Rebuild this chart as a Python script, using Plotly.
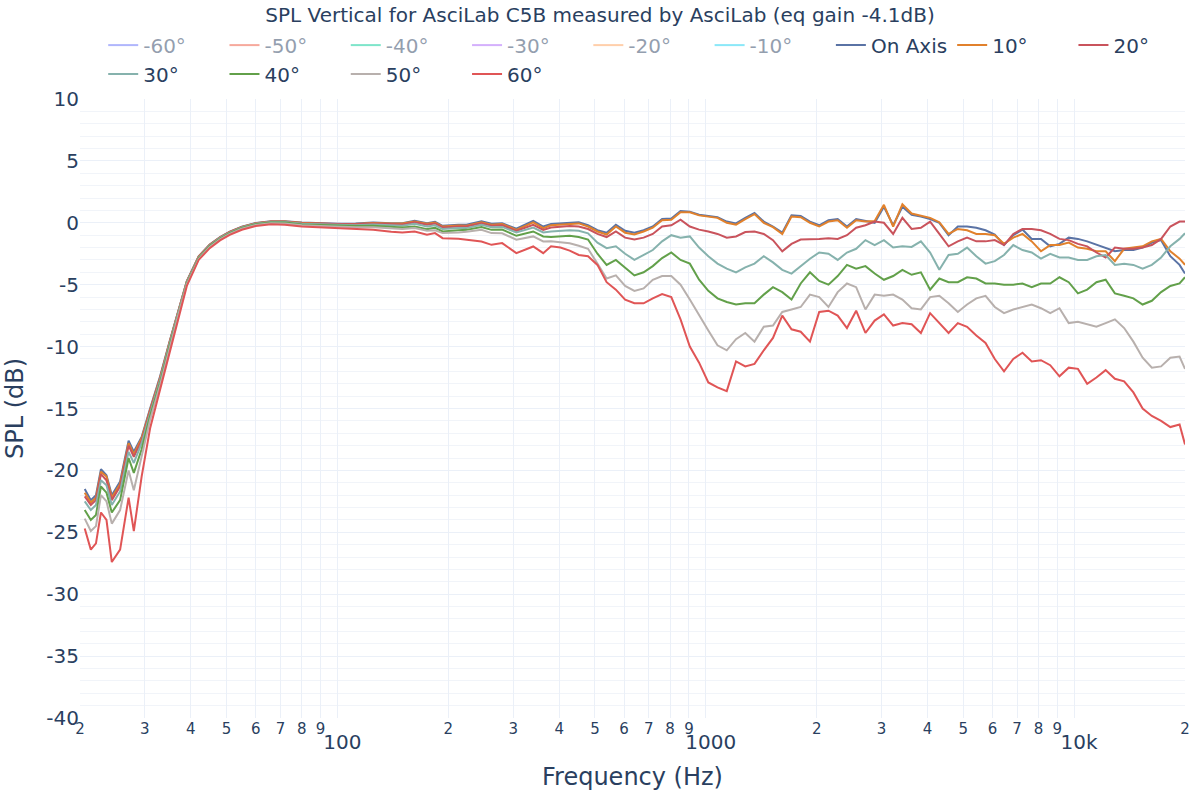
import plotly.graph_objects as go

# ---------------- data ----------------
freq = [20.6, 21.4, 22.1, 22.8, 23.6, 24.4, 25.7, 27.1, 28.0, 29.4, 31, 33, 35, 37, 39, 42, 45, 48, 51, 55, 60, 66, 72,
        80, 90, 100, 112, 125, 140, 150, 162, 175, 184, 193, 213, 224, 246, 262, 280, 306, 340, 362,
        380, 403, 427, 452, 479, 508, 538, 570, 604, 640, 678, 718, 761, 806, 854, 905, 959, 1016, 1076, 1140,
        1208, 1280, 1356, 1437, 1522, 1613, 1709, 1810, 1918, 2032, 2153, 2281, 2417, 2560, 2713, 2874, 3045,
        3226, 3418, 3621, 3837, 4065, 4306, 4562, 4834, 5121, 5426, 5748, 6090, 6452, 6836, 7242, 7673, 8129,
        8612, 9124, 9667, 10242, 10851, 11496, 12179, 12904, 13671, 14484, 15345, 16257, 17224, 18248, 19333, 20000]

on_axis = [-21.5, -22.4, -22.0, -19.9, -20.4, -22.0, -20.9, -17.6, -18.5, -17.3, -15.0, -12.4, -9.6, -7.0, -4.7, -2.7, -1.75, -1.15, -0.72, -0.32, -0.02, 0.12, 0.12,
           0.03, -0.03, -0.08, -0.06, 0.02, -0.03, -0.03, 0.16, -0.03, 0.08, -0.24, -0.16, -0.16, 0.13, -0.08, -0.03, -0.48, 0.16, -0.3,
           -0.10, -0.05, 0.05, 0.05, -0.2, -0.6, -0.8, -0.15, -0.65, -0.8, -0.6, -0.3, 0.3, 0.35, 0.95, 0.9, 0.65, 0.55, 0.45, 0.1,
           -0.05, 0.4, 0.8, 0.1, -0.3, -0.8, 0.6, 0.55, 0.1, -0.2, 0.2, 0.3, -0.3, 0.3, 0.15, 0.0, 1.3,
           -0.2, 1.3, 0.65, 0.5, 0.3, 0.0, -1.0, -0.3, -0.3, -0.4, -0.6, -0.95, -1.8, -1.0, -0.55, -1.3, -1.3,
           -1.9, -1.7, -1.2, -1.3, -1.5, -1.75, -2.0, -2.3, -2.2, -2.2, -2.0, -1.6, -1.4, -2.7, -3.4, -4.1]

deg10 = [-21.8, -22.6, -22.2, -20.1, -20.5, -22.2, -21.1, -17.8, -18.7, -17.4, -15.1, -12.5, -9.65, -7.05, -4.72, -2.72, -1.77, -1.17, -0.74, -0.33, -0.03, 0.11, 0.11,
         0.0, -0.05, -0.11, -0.09, -0.02, -0.06, -0.05, 0.11, -0.08, 0.03, -0.3, -0.22, -0.24, 0.05, -0.16, -0.1, -0.57, 0.03, -0.43,
         -0.20, -0.15, -0.05, -0.05, -0.3, -0.7, -0.95, -0.3, -0.8, -0.95, -0.7, -0.4, 0.2, 0.25, 0.85, 0.85, 0.6, 0.5, 0.4, 0.0,
         -0.15, 0.3, 0.7, 0.0, -0.35, -0.9, 0.5, 0.45, 0.0, -0.3, 0.1, 0.2, -0.4, 0.2, 0.1, 0.15, 1.45,
         -0.3, 1.5, 0.75, 0.6, 0.4, 0.05, -0.9, -0.5, -0.6, -0.9, -0.9, -1.0, -1.7, -1.2, -0.9, -1.5, -2.3,
         -1.8, -1.8, -1.6, -2.0, -2.1, -2.3, -2.3, -3.1, -2.1, -2.0, -1.9, -1.5, -1.3, -2.3, -2.9, -3.4]

deg20 = [-22.1, -22.8, -22.4, -20.3, -20.8, -22.4, -21.3, -18.0, -18.9, -17.6, -15.2, -12.6, -9.7, -7.1, -4.75, -2.75, -1.8, -1.19, -0.76, -0.35, -0.05, 0.09, 0.09,
         -0.03, -0.08, -0.13, -0.12, -0.06, -0.12, -0.13, 0.05, -0.16, -0.05, -0.38, -0.3, -0.3, -0.03, -0.24, -0.2, -0.65, -0.16, -0.57,
         -0.38, -0.30, -0.25, -0.3, -0.5, -0.9, -1.15, -0.7, -1.2, -1.35, -1.2, -0.9, -0.3, -0.2, 0.25, -0.3, -0.55, -0.7, -0.9, -1.2,
         -1.1, -0.75, -0.7, -0.9, -1.4, -2.3, -1.7, -1.35, -1.35, -1.3, -1.25, -1.3, -1.0, -0.4, -0.2, 0.1, 0.0,
         -0.9, 0.4, -0.5, -0.4, 0.1, -0.9, -1.9, -1.5, -1.2, -1.5, -1.5, -1.4, -1.8, -0.9, -0.5, -0.5, -0.6,
         -0.9, -1.3, -1.4, -1.7, -1.9, -2.4, -2.8, -2.0, -2.1, -2.1, -2.0, -1.8, -1.3, -0.3, 0.1, 0.1]

deg30 = [-22.5, -23.2, -22.8, -20.8, -21.2, -22.8, -21.7, -18.5, -19.4, -17.8, -15.4, -12.7, -9.8, -7.15, -4.8, -2.8, -1.83, -1.22, -0.79, -0.38, -0.08, 0.06, 0.06,
         -0.08, -0.12, -0.19, -0.19, -0.14, -0.22, -0.24, -0.08, -0.3, -0.2, -0.51, -0.43, -0.43, -0.16, -0.35, -0.33, -0.78, -0.38, -0.78,
         -0.70, -0.65, -0.60, -0.65, -0.85, -1.6, -2.05, -1.9, -2.5, -3.0, -2.6, -2.2, -1.5, -1.0, -1.2, -1.1, -2.0, -2.7, -3.3, -3.7,
         -4.0, -3.6, -3.3, -2.7, -3.2, -3.8, -4.1, -3.5, -2.9, -2.4, -2.5, -3.0, -2.4, -2.1, -1.4, -1.8, -1.4,
         -2.0, -1.9, -1.95, -1.5, -2.4, -3.8, -2.6, -2.5, -2.0, -2.7, -3.3, -3.1, -2.6, -1.8, -2.2, -2.4, -2.9,
         -2.5, -2.8, -2.8, -3.0, -3.0, -2.7, -2.6, -3.4, -3.3, -3.4, -3.7, -3.4, -2.8, -1.9, -1.3, -0.85]

deg40 = [-23.2, -24.0, -23.6, -21.3, -21.8, -23.4, -22.4, -19.0, -20.2, -18.3, -15.6, -12.9, -9.95, -7.25, -4.87, -2.85, -1.88, -1.27, -0.84, -0.42, -0.12, 0.03, 0.03,
         -0.13, -0.18, -0.24, -0.26, -0.24, -0.33, -0.38, -0.3, -0.51, -0.4, -0.7, -0.6, -0.57, -0.35, -0.57, -0.55, -1.05, -0.7, -1.1,
         -1.15, -1.10, -1.05, -1.15, -1.35, -2.5, -3.4, -3.0, -3.6, -4.25, -4.0, -3.5, -2.85, -2.4, -3.0, -3.3, -4.6, -5.5, -6.1, -6.4,
         -6.6, -6.5, -6.5, -5.8, -5.2, -5.6, -6.2, -4.9, -4.0, -4.7, -5.0, -4.3, -3.4, -3.7, -3.5, -4.1, -4.6,
         -4.3, -3.8, -4.2, -4.0, -5.4, -4.5, -4.8, -4.8, -4.4, -4.5, -4.9, -4.9, -5.0, -5.0, -4.9, -5.2, -4.9,
         -4.9, -4.4, -4.8, -5.7, -5.4, -4.8, -4.6, -5.7, -5.9, -6.1, -6.6, -6.3, -5.6, -5.1, -4.9, -4.4]

deg50 = [-23.9, -24.9, -24.5, -22.0, -22.5, -24.3, -23.2, -20.0, -21.6, -18.8, -15.9, -13.1, -10.1, -7.4, -4.95, -2.92, -1.95, -1.33, -0.9, -0.48, -0.18, -0.03, -0.05,
         -0.19, -0.25, -0.32, -0.36, -0.36, -0.45, -0.51, -0.43, -0.65, -0.6, -0.83, -0.78, -0.73, -0.57, -0.83, -0.85, -1.37, -1.1, -1.51,
         -1.50, -1.55, -1.65, -1.85, -2.1, -3.3, -4.5, -4.25, -5.1, -5.5, -5.3, -4.6, -4.3, -4.3, -5.0, -6.2, -7.5, -8.7, -9.9, -10.3,
         -9.4, -8.9, -9.6, -8.4, -8.3, -7.2, -7.0, -6.8, -5.8, -6.0, -6.8, -5.6, -4.9, -5.2, -7.0, -5.8, -5.9,
         -5.8, -6.2, -6.9, -7.0, -6.0, -5.9, -6.5, -7.2, -6.6, -6.1, -5.9, -6.8, -7.3, -7.0, -6.8, -6.6, -6.9,
         -7.3, -6.9, -8.1, -8.0, -8.2, -8.4, -8.1, -7.8, -8.5, -9.6, -10.9, -11.7, -11.6, -10.9, -10.8, -11.8]

deg60 = [-24.7, -26.4, -25.9, -23.4, -24.0, -27.4, -26.4, -22.2, -24.9, -20.5, -16.6, -13.5, -10.4, -7.6, -5.1, -3.0, -2.05, -1.42, -0.98, -0.56, -0.26, -0.12, -0.15,
         -0.3, -0.38, -0.46, -0.5, -0.56, -0.72, -0.78, -0.7, -0.97, -0.83, -1.24, -1.29, -1.37, -1.51, -1.78, -1.64, -2.45, -1.91, -2.45,
         -1.90, -2.0, -2.25, -2.6, -2.7, -3.4, -4.8, -5.4, -6.2, -6.5, -6.5, -6.1, -5.75, -6.0, -7.8, -10.0, -11.3, -12.9, -13.3, -13.6,
         -11.2, -11.6, -11.4, -10.3, -9.3, -7.5, -8.6, -8.8, -9.6, -7.2, -7.1, -7.5, -8.5, -7.1, -8.9, -7.9, -7.4,
         -8.3, -8.1, -8.2, -8.9, -7.3, -8.1, -8.9, -8.1, -8.4, -9.1, -9.7, -11.0, -12.0, -11.0, -10.5, -11.2, -11.1,
         -11.5, -12.4, -11.7, -11.8, -13.0, -12.5, -11.9, -12.6, -12.8, -13.7, -15.0, -15.6, -16.0, -16.5, -16.3, -17.9]

# the negative angles are hidden (legend only) in the reference; mirrored estimates
hidden_names = ["-60°", "-50°", "-40°", "-30°", "-20°", "-10°"]
hidden_values = [deg60, deg50, deg40, deg30, deg20, deg10]
hidden_colors = ["#636efa", "#EF553B", "#00cc96", "#ab63fa", "#FFA15A", "#19d3f3"]

shown_names = ["On Axis", "10°", "20°", "30°", "40°", "50°", "60°"]
shown_values = [on_axis, deg10, deg20, deg30, deg40, deg50, deg60]
shown_colors = ["#5a73a5", "#e1812c", "#c9535c", "#86b2ad", "#62a04a", "#b8b0ad", "#e05556"]

y_ticks = [10, 5, 0, -5, -10, -15, -20, -25, -30, -35, -40]
y_tick_text = ["10", "5", "0", "-5", "-10", "-15", "-20", "-25", "-30", "-35", "-40"]

title_text = "SPL Vertical for AsciLab C5B measured by AsciLab (eq gain -4.1dB)"

# ---------------- figure ----------------
fig = go.Figure()
for name, vals, color in zip(hidden_names, hidden_values, hidden_colors):
    fig.add_trace(go.Scatter(x=freq, y=vals, name=name, mode="lines",
                             line=dict(color=color, width=2), visible="legendonly"))
for name, vals, color in zip(shown_names, shown_values, shown_colors):
    fig.add_trace(go.Scatter(x=freq, y=vals, name=name, mode="lines",
                             line=dict(color=color, width=2)))

FONT = "Verdana, DejaVu Sans, sans-serif"
TXT = "#2a3f5f"
GRID = "#EBF0F8"

fig.update_layout(
    template="plotly_white",
    width=1200, height=800,
    font=dict(family=FONT, color=TXT, size=18),
    title=dict(text=title_text, x=0.5, xanchor="center", y=0.981, yanchor="middle",
               font=dict(size=20, family=FONT, color=TXT)),
    legend=dict(orientation="h", xref="container", x=0.086, xanchor="left",
                yref="container", y=0.968, yanchor="top",
                font=dict(size=20, family=FONT, color=TXT), bgcolor="rgba(0,0,0,0)"),
    margin=dict(l=80, r=15, t=99, b=82, autoexpand=False),
    plot_bgcolor="white", paper_bgcolor="white",
    showlegend=True,
)
fig.update_xaxes(type="log", range=[1.30103, 4.30103], dtick="D1",
                 title=dict(text="Frequency (Hz)", font=dict(size=24, family=FONT, color=TXT)),
                 tickfont=dict(size=20, family=FONT, color=TXT),
                 showgrid=True, gridcolor=GRID, zeroline=False, showline=False, automargin=False)
fig.update_yaxes(range=[-40, 10], tickvals=y_ticks, ticktext=y_tick_text,
                 title=dict(text="SPL (dB)", font=dict(size=24, family=FONT, color=TXT)),
                 tickfont=dict(size=20, family=FONT, color=TXT),
                 showgrid=True, gridcolor=GRID, zeroline=False, showline=False, automargin=False,
                 minor=dict(dtick=1, showgrid=True, gridcolor="#F1F4F9"))

fig.write_html("out.html")
